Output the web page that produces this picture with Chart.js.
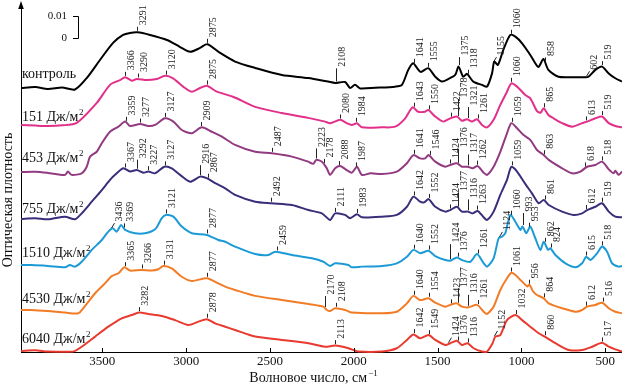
<!DOCTYPE html>
<html>
<head>
<meta charset="utf-8">
<style>
  html, body { margin: 0; padding: 0; background: #fff; }
  #wrap { width: 622px; height: 386px; position: relative; }
</style>
<script src="https://cdn.jsdelivr.net/npm/chart.js@4.4.1/dist/chart.umd.min.js"></script>
</head>
<body>
<div id="wrap"><canvas id="ir"></canvas></div>
<script>
// ---- data: wavenumber (cm-1) / optical density in 0.001 units, spectra stacked ----
const xTicks = [3500, 3000, 2500, 2000, 1500, 1000, 500];

const control = [[3985,120.0],[3900,120.4],[3824,119.5],[3740,120.2],[3663,119.3],[3593,124.5],[3514,132.7],[3436,140.5],[3376,144.1],[3335,145.0],[3291,145.3],[3215,144.1],[3114,141.8],[3036,138.6],[2976,136.4],[2917,138.2],[2873,139.9],[2797,135.9],[2708,132.0],[2588,129.1],[2429,125.9],[2272,124.5],[2153,122.9],[2111,122.3],[2052,122.7],[2022,120.0],[1993,121.4],[1962,119.8],[1872,120.1],[1753,120.6],[1713,121.4],[1675,128.2],[1646,131.2],[1620,128.8],[1600,127.2],[1556,129.0],[1514,125.1],[1474,122.9],[1437,124.0],[1395,125.9],[1375,129.7],[1347,125.1],[1325,126.4],[1287,122.9],[1235,121.4],[1205,120.6],[1175,126.7],[1162,132.0],[1140,130.5],[1108,137.3],[1066,144.1],[1036,143.3],[996,140.3],[947,135.0],[899,129.5],[869,133.2],[839,128.2],[779,125.1],[698,124.9],[618,124.9],[600,125.1],[559,128.2],[519,129.7],[481,126.7],[440,124.4],[400,122.9]];

const dose151 = [[3985,103.2],[3900,102.9],[3824,102.7],[3740,103.0],[3653,104.1],[3533,113.2],[3454,121.4],[3394,123.6],[3364,124.9],[3324,123.3],[3295,124.1],[3235,123.6],[3175,124.1],[3126,125.5],[3078,124.4],[3018,120.6],[2966,118.3],[2917,120.0],[2877,121.0],[2817,118.3],[2720,116.0],[2588,111.4],[2429,108.6],[2272,106.4],[2171,104.7],[2141,104.0],[2081,105.5],[2042,104.0],[2011,103.2],[1981,104.0],[1952,102.1],[1832,102.1],[1753,102.4],[1693,106.2],[1650,111.2],[1616,109.2],[1574,109.2],[1556,110.0],[1514,107.0],[1466,104.7],[1425,106.2],[1385,107.0],[1355,105.1],[1325,105.8],[1295,104.7],[1265,105.8],[1235,103.2],[1205,102.1],[1166,105.5],[1126,112.3],[1086,118.3],[1060,122.1],[1026,120.6],[977,116.8],[947,115.3],[907,109.5],[885,108.8],[867,110.8],[839,107.7],[808,106.2],[757,104.0],[698,102.4],[638,104.0],[608,104.7],[559,106.2],[519,107.0],[479,104.0],[440,102.7],[400,102.1]];

const dose453 = [[3985,81.8],[3900,81.9],[3824,81.4],[3722,80.5],[3705,82.0],[3683,80.5],[3623,81.2],[3593,84.2],[3573,88.8],[3533,91.0],[3503,94.9],[3454,100.1],[3404,102.4],[3364,104.7],[3335,102.7],[3275,103.6],[3225,102.7],[3185,103.2],[3126,106.2],[3076,104.7],[3026,100.9],[2966,99.4],[2907,102.1],[2847,100.1],[2787,97.9],[2708,94.1],[2588,91.0],[2489,90.3],[2369,88.8],[2272,86.5],[2242,85.5],[2224,87.3],[2190,86.5],[2161,83.5],[2141,80.5],[2111,83.5],[2081,84.5],[2042,82.7],[2011,81.5],[1981,84.2],[1952,80.5],[1900,81.2],[1832,80.9],[1743,82.0],[1683,85.8],[1644,89.5],[1604,88.0],[1574,88.0],[1554,89.5],[1514,86.5],[1454,84.2],[1425,85.0],[1385,85.8],[1355,84.2],[1321,84.2],[1291,83.5],[1261,84.5],[1225,81.5],[1205,80.5],[1166,84.2],[1126,91.0],[1086,99.4],[1060,104.0],[1026,101.7],[987,98.6],[947,96.4],[907,91.8],[867,89.5],[837,87.3],[757,83.5],[698,81.2],[648,82.0],[608,84.2],[559,85.0],[519,86.5],[479,83.0],[450,81.2],[440,82.4],[420,80.5],[400,82.0]];

const dose755 = [[3985,60.5],[3900,60.8],[3824,60.3],[3722,61.5],[3663,60.3],[3623,63.0],[3563,68.3],[3503,73.6],[3454,78.2],[3424,80.5],[3375,83.5],[3335,82.0],[3295,82.7],[3255,81.5],[3225,82.0],[3185,81.2],[3130,84.2],[3086,83.5],[3036,80.5],[2976,77.4],[2917,79.7],[2877,79.0],[2827,76.7],[2767,74.4],[2708,71.4],[2588,68.3],[2489,67.6],[2369,66.8],[2270,64.5],[2190,63.0],[2141,60.0],[2111,63.0],[2052,62.3],[2022,60.8],[1981,62.6],[1952,61.2],[1832,61.5],[1743,62.3],[1683,66.0],[1644,70.6],[1604,68.3],[1580,68.0],[1554,69.5],[1514,66.0],[1454,63.8],[1425,64.5],[1385,66.0],[1355,63.8],[1321,63.8],[1291,63.0],[1261,64.1],[1225,61.2],[1205,60.0],[1166,63.8],[1126,71.4],[1086,78.2],[1060,84.2],[1026,82.0],[977,76.4],[937,72.1],[897,67.6],[867,69.1],[837,66.8],[757,63.8],[688,62.3],[638,63.0],[608,64.5],[559,66.0],[519,67.6],[479,63.8],[440,61.5],[400,61.2]];

const dose1510 = [[3985,39.5],[3921,39.5],[3824,39.1],[3722,38.5],[3693,39.5],[3663,38.8],[3623,41.0],[3563,46.4],[3503,50.9],[3464,54.7],[3438,56.2],[3414,54.7],[3388,57.7],[3364,55.5],[3305,54.0],[3245,54.0],[3185,55.8],[3145,60.8],[3121,62.3],[3076,61.5],[3026,57.0],[2966,54.0],[2877,53.2],[2808,50.9],[2767,50.1],[2708,47.9],[2588,44.5],[2509,44.1],[2469,45.6],[2369,44.1],[2250,42.6],[2181,41.0],[2141,39.1],[2111,40.3],[2032,39.5],[2011,38.5],[1952,38.8],[1832,39.1],[1743,40.3],[1683,43.3],[1644,46.4],[1604,44.9],[1554,46.0],[1514,43.6],[1454,41.8],[1425,41.5],[1385,43.0],[1355,41.8],[1305,41.0],[1265,44.5],[1225,40.3],[1205,38.8],[1166,42.6],[1136,51.7],[1116,52.4],[1096,54.0],[1066,62.3],[1036,59.2],[1006,55.5],[993,57.0],[971,54.0],[947,57.0],[917,51.7],[887,46.4],[867,50.1],[841,46.4],[827,47.1],[797,44.1],[737,40.3],[678,38.5],[638,40.3],[614,43.3],[588,41.8],[548,44.9],[519,47.9],[489,45.6],[459,40.3],[420,38.8],[400,39.1]];

const dose4530 = [[3985,19.1],[3921,19.1],[3824,18.6],[3722,17.9],[3643,17.6],[3613,19.9],[3543,26.7],[3484,31.2],[3444,34.5],[3404,35.8],[3369,38.5],[3335,37.0],[3269,37.3],[3205,37.0],[3166,37.6],[3136,39.1],[3086,38.0],[3026,34.2],[2966,32.3],[2877,33.5],[2808,31.2],[2767,29.7],[2708,28.2],[2588,25.5],[2429,23.6],[2270,21.8],[2181,20.6],[2161,19.1],[2141,18.6],[2111,19.9],[2052,19.1],[2011,17.9],[1832,17.6],[1743,18.3],[1683,22.1],[1644,25.5],[1604,23.6],[1554,24.4],[1514,22.4],[1454,20.6],[1425,21.4],[1385,22.1],[1355,20.6],[1315,20.3],[1265,21.4],[1225,18.3],[1205,17.3],[1166,20.6],[1126,28.2],[1086,33.5],[1060,36.0],[1036,35.0],[996,32.0],[965,29.8],[952,30.6],[930,27.5],[907,25.9],[867,24.4],[837,22.1],[757,19.9],[678,18.3],[638,19.1],[608,20.6],[559,21.4],[519,22.4],[479,19.9],[440,18.3],[400,17.6]];

const dose6040 = [[3985,0.5],[3900,0.8],[3824,0.2],[3673,0.2],[3623,2.4],[3543,7.0],[3464,11.5],[3384,15.3],[3324,16.8],[3281,17.9],[3225,17.3],[3145,16.4],[3066,14.5],[2987,12.3],[2927,13.8],[2877,14.9],[2827,13.0],[2767,11.5],[2708,10.0],[2588,7.0],[2429,5.5],[2270,4.0],[2171,2.4],[2111,2.9],[2032,1.7],[1972,0.2],[1832,0.2],[1743,1.7],[1683,5.5],[1644,8.0],[1604,6.2],[1554,7.7],[1514,5.5],[1454,3.2],[1425,4.0],[1385,5.1],[1355,3.2],[1321,4.0],[1285,1.7],[1235,0.2],[1205,0.2],[1172,4.0],[1156,7.0],[1126,7.7],[1086,14.5],[1036,16.8],[996,14.5],[947,11.5],[897,8.5],[861,7.0],[797,4.0],[717,0.9],[638,0.9],[578,2.4],[519,4.2],[479,2.4],[440,1.2],[400,0.2]];

// peak labels (cm-1)
const peaksControl = [3291, 2875, 2108, 1641, 1555, 1375, 1318, 1155, 1060, 858, 602, 519];
const peaks151  = [3366, 3290, 3120, 2875, 2080, 1984, 1643, 1550, 1422, 1378, 1321, 1261, 1060, 865, 613, 519];
const peaks453  = [3359, 3277, 3127, 2909, 2487, 2223, 2178, 2088, 1987, 1641, 1546, 1424, 1376, 1317, 1262, 1059, 863, 618, 518];
const peaks755  = [3367, 3292, 3227, 3127, 2916, 2867, 2492, 2111, 1983, 1642, 1552, 1424, 1377, 1316, 1263, 1059, 861, 612, 519];
const peaks1510 = [3436, 3369, 3121, 2877, 2459, 1640, 1552, 1424, 1376, 1261, 1124, 1060, 993, 953, 862, 824, 615, 518];
const peaks4530 = [3365, 3266, 3131, 2877, 2170, 2108, 1640, 1554, 1423, 1377, 1316, 1261, 1061, 956, 864, 612, 516];
const peaks6040 = [3282, 2878, 2113, 1642, 1549, 1424, 1376, 1316, 1152, 1032, 860, 517];

const doseLabels = ['контроль', '151', '453', '755', '1510', '4530', '6040'];
const scaleBar = [142.7, 152.7]; // 0 .. 0.01

// ---- styling ----
const SERIF = '"Liberation Serif", "DejaVu Serif", serif';
const spectra = [
  { points: control,  peaks: peaksControl, color: '#000000', tall: { 2108: 13, 1375: 8 }, slant: [1155, 602] },
  { points: dose151,  peaks: peaks151,  color: '#e2308a', tall: { 1378: 17, 1321: 11 }, slant: [] },
  { points: dose453,  peaks: peaks453,  color: '#923a80', tall: { 2223: 10, 1376: 14, 1317: 11 }, slant: [] },
  { points: dose755,  peaks: peaks755,  color: '#3a2d7a', tall: { 3292: 9, 2916: 10, 1377: 14, 1316: 11 }, slant: [] },
  { points: dose1510, peaks: peaks1510, color: '#1c9ad6', tall: { 1424: 15, 993: 12 }, slant: [3436, 1124] },
  { points: dose4530, peaks: peaks4530, color: '#f27c26', tall: { 2170: 11, 1377: 14, 1316: 11 }, slant: [] },
  { points: dose6040, peaks: peaks6040, color: '#e83a2e', tall: {}, slant: [1424, 1152] },
];
const labelBaseline = [78, 121, 162, 213, 257, 303, 343];

function valueAt(points, wn) {
  for (let i = 0; i < points.length - 1; i++) {
    const [x0, y0] = points[i], [x1, y1] = points[i + 1];
    if (wn <= x0 && wn >= x1) return y0 + (y1 - y0) * (wn - x0) / (x1 - x0);
  }
  return points[points.length - 1][1];
}

const decorPlugin = {
  id: 'decor',
  afterDraw(chart) {
    const { ctx, chartArea: area, scales: { x, y } } = chart;
    ctx.save();

    // y axis arrow
    ctx.fillStyle = '#000';
    ctx.beginPath();
    ctx.moveTo(area.left, 1);
    ctx.lineTo(area.left - 2.8, 9);
    ctx.lineTo(area.left + 2.8, 9);
    ctx.closePath();
    ctx.fill();

    // inward x ticks
    ctx.strokeStyle = '#000';
    ctx.lineWidth = 1;
    xTicks.forEach(v => {
      const px = Math.round(x.getPixelForValue(v)) + 0.5;
      ctx.beginPath();
      ctx.moveTo(px, area.bottom);
      ctx.lineTo(px, area.bottom - 4);
      ctx.stroke();
    });

    // peak ticks and labels
    ctx.strokeStyle = '#222';
    ctx.fillStyle = '#222';
    ctx.font = '10px ' + SERIF;
    spectra.forEach(s => {
      s.peaks.forEach(wn => {
        const px = Math.round(x.getPixelForValue(wn)) + 0.5;
        const py = y.getPixelForValue(valueAt(s.points, wn)) - 1.5;
        const len = s.tall[wn] || 4;
        ctx.beginPath();
        if (s.slant.includes(wn)) {
          ctx.moveTo(px - 2, py + 1);
          ctx.lineTo(px + 1, py - len);
        } else {
          ctx.moveTo(px, py);
          ctx.lineTo(px, py - len);
        }
        ctx.stroke();
        ctx.save();
        ctx.translate(px + 0.5, py - len - 1.5);
        ctx.rotate(-Math.PI / 2);
        ctx.textAlign = 'left';
        ctx.textBaseline = 'top';
        ctx.fillText(String(wn), 0, 0);
        ctx.restore();
      });
    });

    // spectrum labels
    ctx.fillStyle = '#111';
    doseLabels.forEach((t, i) => {
      const base = labelBaseline[i];
      ctx.font = '14px ' + SERIF;
      ctx.textAlign = 'left';
      ctx.textBaseline = 'alphabetic';
      if (i === 0) {
        ctx.fillText(t, 22, base);
      } else {
        const main = t + ' Дж/м';
        ctx.fillText(main, 22, base);
        const w = ctx.measureText(main).width;
        ctx.font = '9px ' + SERIF;
        ctx.fillText('2', 22 + w + 0.5, base - 6);
      }
    });

    // scale bar
    const yTop = Math.round(y.getPixelForValue(scaleBar[1])) + 0.5;
    const yBot = Math.round(y.getPixelForValue(scaleBar[0])) + 0.5;
    ctx.strokeStyle = '#000';
    ctx.beginPath();
    ctx.moveTo(73, yTop); ctx.lineTo(78.5, yTop); ctx.lineTo(78.5, yBot); ctx.lineTo(73, yBot);
    ctx.stroke();
    ctx.fillStyle = '#111';
    ctx.font = '11px ' + SERIF;
    ctx.textAlign = 'right';
    ctx.textBaseline = 'middle';
    ctx.fillText('0.01', 67, yTop);
    ctx.fillText('0', 67, yBot);

    // axis titles
    ctx.font = '14px ' + SERIF;
    ctx.save();
    ctx.translate(8.5, 200);
    ctx.rotate(-Math.PI / 2);
    ctx.textAlign = 'center';
    ctx.textBaseline = 'middle';
    ctx.fillText('Оптическая плотность', 0, 0);
    ctx.restore();

    const main = 'Волновое число, см';
    ctx.font = '14px ' + SERIF;
    const w1 = ctx.measureText(main).width;
    ctx.font = '9px ' + SERIF;
    const w2 = ctx.measureText('−1').width;
    const start = 313.5 - (w1 + w2 + 1) / 2;
    ctx.textAlign = 'left';
    ctx.textBaseline = 'alphabetic';
    ctx.font = '14px ' + SERIF;
    ctx.fillText(main, start, 382);
    ctx.font = '9px ' + SERIF;
    ctx.fillText('−1', start + w1 + 1, 376);

    ctx.restore();
  }
};

new Chart(document.getElementById('ir'), {
  type: 'line',
  data: {
    datasets: spectra.map(s => ({
      data: s.points.map(([wn, a]) => ({ x: wn, y: a })),
      borderColor: s.color,
      borderWidth: 2,
      pointRadius: 0,
      tension: 0.25,
      fill: false,
      clip: false,
    }))
  },
  options: {
    responsive: true,
    maintainAspectRatio: false,
    animation: false,
    layout: { padding: { left: 0, right: 0, top: 5, bottom: 0 } },
    plugins: { legend: { display: false }, tooltip: { enabled: false } },
    scales: {
      x: {
        type: 'linear',
        reverse: true,
        min: 400,
        max: 3985,
        afterBuildTicks: s => { s.ticks = xTicks.map(v => ({ value: v })); },
        afterFit: s => { s.height = 34; },
        grid: { display: false, drawTicks: false },
        border: { display: true, color: '#000', width: 1 },
        ticks: {
          color: '#111', padding: 2, maxRotation: 0,
          font: { family: SERIF, size: 13 },
          callback: v => String(v),
        },
      },
      y: {
        type: 'linear',
        min: 0,
        max: 157.7,
        afterFit: s => { s.width = 21; },
        grid: { display: false, drawTicks: false },
        border: { display: true, color: '#000', width: 1 },
        ticks: { display: false },
      }
    }
  },
  plugins: [decorPlugin]
});
</script>
</body>
</html>
